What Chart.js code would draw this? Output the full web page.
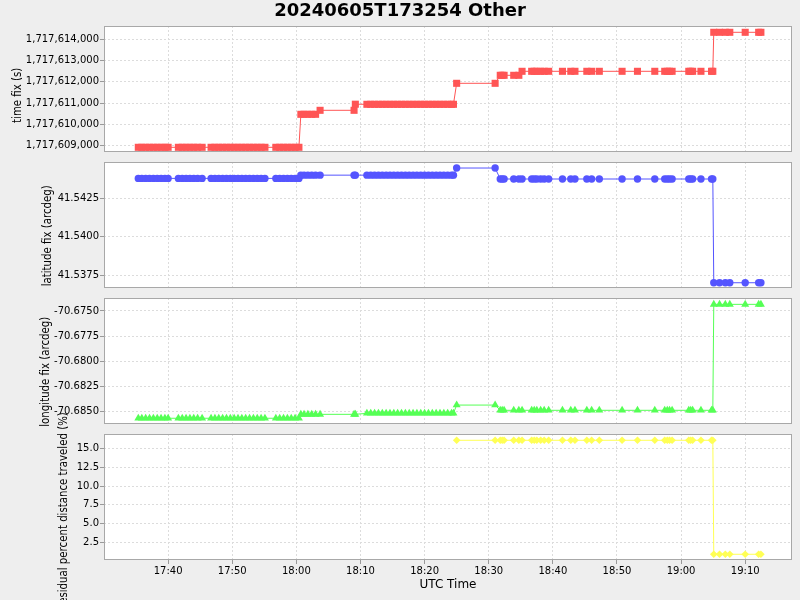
<!DOCTYPE html>
<html>
<head>
<meta charset="utf-8">
<script src="https://cdn.jsdelivr.net/npm/chart.js@4"></script>
<style>
  html, body { margin: 0; padding: 0; background: #eeeeee; }
  #contenedor { position: relative; width: 800px; height: 600px; }
  #contenedor canvas { position: absolute; left: 0; top: 0; }
</style>
</head>
<body>
<div id="contenedor">
  <canvas id="graficoTiempo" width="800" height="600"></canvas>
  <canvas id="graficoLatitud" width="800" height="600"></canvas>
  <canvas id="graficoLongitud" width="800" height="600"></canvas>
  <canvas id="graficoResiduo" width="800" height="600"></canvas>
</div>
<script>
// Minutos desde las 17:00 UTC de cada fix
const minutos = [
  35.35, 35.9, 36.5, 37.1, 37.7, 38.3, 38.9, 39.5, 40.0,
  41.6, 42.2, 42.8, 43.4, 44.0, 44.6, 45.3,
  46.7, 47.3, 47.9, 48.5, 49.1, 49.7, 50.3, 50.9, 51.5, 52.1, 52.7, 53.3, 53.9, 54.5, 55.1,
  56.8, 57.4, 58.0, 58.6, 59.2, 59.8, 60.4,
  60.7, 61.2, 61.8, 62.4, 63.0, 63.7, 69.0, 69.2,
  71.0, 71.6, 72.2, 72.8, 73.4, 74.0, 74.6, 75.2, 75.8, 76.4, 77.0, 77.6,
  78.2, 78.8, 79.4, 80.0, 80.6, 81.2, 81.8, 82.4, 83.0, 83.6, 84.2, 84.5,
  85.0, 91.0,
  91.8, 92.1, 92.4, 93.9, 94.7,
  95.2, 96.7, 97.1, 97.5, 98.1, 98.65, 99.35, 101.5, 102.8, 103.45, 105.3, 106.05, 107.25,
  110.8, 113.2, 115.9, 117.45, 117.85, 118.2, 118.6, 121.2, 121.5, 121.8, 123.1, 124.75, 124.95,
  125.1, 126.0, 126.9, 127.6, 130.0, 132.1, 132.45
];

// time fix (s)
const tiempoFix = [
  1717608925, 1717608925, 1717608925, 1717608925, 1717608925, 1717608925, 1717608925, 1717608925, 1717608925,
  1717608925, 1717608925, 1717608925, 1717608925, 1717608925, 1717608925, 1717608925,
  1717608925, 1717608925, 1717608925, 1717608925, 1717608925, 1717608925, 1717608925, 1717608925, 1717608925, 1717608925, 1717608925, 1717608925, 1717608925, 1717608925, 1717608925,
  1717608925, 1717608925, 1717608925, 1717608925, 1717608925, 1717608925, 1717608925,
  1717610475, 1717610475, 1717610475, 1717610475, 1717610475, 1717610663, 1717610663, 1717610950,
  1717610945, 1717610945, 1717610945, 1717610945, 1717610945, 1717610945, 1717610945, 1717610945, 1717610945, 1717610945, 1717610945, 1717610945,
  1717610945, 1717610945, 1717610945, 1717610945, 1717610945, 1717610945, 1717610945, 1717610945, 1717610945, 1717610945, 1717610945, 1717610945,
  1717611932, 1717611932,
  1717612308, 1717612308, 1717612308, 1717612308, 1717612308,
  1717612496, 1717612496, 1717612496, 1717612496, 1717612496, 1717612496, 1717612496, 1717612496, 1717612496, 1717612496, 1717612496, 1717612496, 1717612496,
  1717612496, 1717612496, 1717612496, 1717612496, 1717612496, 1717612496, 1717612496, 1717612496, 1717612496, 1717612496, 1717612496, 1717612496, 1717612496,
  1717614329, 1717614329, 1717614329, 1717614329, 1717614329, 1717614329, 1717614329
];

// latitude fix (arcdeg)
const latitud = [
  41.54377, 41.54377, 41.54377, 41.54377, 41.54377, 41.54377, 41.54377, 41.54377, 41.54377,
  41.54377, 41.54377, 41.54377, 41.54377, 41.54377, 41.54377, 41.54377,
  41.54377, 41.54377, 41.54377, 41.54377, 41.54377, 41.54377, 41.54377, 41.54377, 41.54377, 41.54377, 41.54377, 41.54377, 41.54377, 41.54377, 41.54377,
  41.54377, 41.54377, 41.54377, 41.54377, 41.54377, 41.54377, 41.54377,
  41.54398, 41.54398, 41.54398, 41.54398, 41.54398, 41.54398, 41.54398, 41.54398,
  41.54398, 41.54398, 41.54398, 41.54398, 41.54398, 41.54398, 41.54398, 41.54398, 41.54398, 41.54398, 41.54398, 41.54398,
  41.54398, 41.54398, 41.54398, 41.54398, 41.54398, 41.54398, 41.54398, 41.54398, 41.54398, 41.54398, 41.54398, 41.54398,
  41.54444, 41.54444,
  41.54373, 41.54373, 41.54373, 41.54373, 41.54373,
  41.54373, 41.54373, 41.54373, 41.54373, 41.54373, 41.54373, 41.54373, 41.54373, 41.54373, 41.54373, 41.54373, 41.54373, 41.54373,
  41.54373, 41.54373, 41.54373, 41.54373, 41.54373, 41.54373, 41.54373, 41.54373, 41.54373, 41.54373, 41.54373, 41.54373, 41.54373,
  41.53702, 41.53702, 41.53702, 41.53702, 41.53702, 41.53702, 41.53702
];

// longitude fix (arcdeg)
const longitud = [
  -70.68565, -70.68565, -70.68565, -70.68565, -70.68565, -70.68565, -70.68565, -70.68565, -70.68565,
  -70.68565, -70.68565, -70.68565, -70.68565, -70.68565, -70.68565, -70.68565,
  -70.68565, -70.68565, -70.68565, -70.68565, -70.68565, -70.68565, -70.68565, -70.68565, -70.68565, -70.68565, -70.68565, -70.68565, -70.68565, -70.68565, -70.68565,
  -70.68565, -70.68565, -70.68565, -70.68565, -70.68565, -70.68565, -70.68565,
  -70.68526, -70.68526, -70.68526, -70.68526, -70.68526, -70.68526, -70.68526, -70.68526,
  -70.68516, -70.68516, -70.68516, -70.68516, -70.68516, -70.68516, -70.68516, -70.68516, -70.68516, -70.68516, -70.68516, -70.68516,
  -70.68516, -70.68516, -70.68516, -70.68516, -70.68516, -70.68516, -70.68516, -70.68516, -70.68516, -70.68516, -70.68516, -70.68516,
  -70.68434, -70.68434,
  -70.68486, -70.68486, -70.68486, -70.68486, -70.68486,
  -70.68486, -70.68486, -70.68486, -70.68486, -70.68486, -70.68486, -70.68486, -70.68486, -70.68486, -70.68486, -70.68486, -70.68486, -70.68486,
  -70.68486, -70.68486, -70.68486, -70.68486, -70.68486, -70.68486, -70.68486, -70.68486, -70.68486, -70.68486, -70.68486, -70.68486, -70.68486,
  -70.67434, -70.67434, -70.67434, -70.67434, -70.67434, -70.67434, -70.67434
];

// residual percent distance traveled (%), sin dato antes de las 18:25
const residuo = [
  null, null, null, null, null, null, null, null, null,
  null, null, null, null, null, null, null,
  null, null, null, null, null, null, null, null, null, null, null, null, null, null, null,
  null, null, null, null, null, null, null,
  null, null, null, null, null, null, null, null,
  null, null, null, null, null, null, null, null, null, null, null, null,
  null, null, null, null, null, null, null, null, null, null, null, null,
  16.12, 16.12,
  16.12, 16.12, 16.12, 16.12, 16.12,
  16.12, 16.12, 16.12, 16.12, 16.12, 16.12, 16.12, 16.12, 16.12, 16.12, 16.12, 16.12, 16.12,
  16.12, 16.12, 16.12, 16.12, 16.12, 16.12, 16.12, 16.12, 16.12, 16.12, 16.12, 16.12, 16.12,
  0.9, 0.9, 0.9, 0.9, 0.9, 0.9, 0.9
];

// Marcas de los ejes
const ticksHora = [40, 50, 60, 70, 80, 90, 100, 110, 120, 130];
const etiquetasHora = ['17:40', '17:50', '18:00', '18:10', '18:20', '18:30', '18:40', '18:50', '19:00', '19:10'];
const ticksTiempo = [1717609000, 1717610000, 1717611000, 1717612000, 1717613000, 1717614000];
const ticksLatitud = [41.5375, 41.5400, 41.5425];
const ticksLongitud = [-70.6850, -70.6825, -70.6800, -70.6775, -70.6750];
const ticksResiduo = [2.5, 5.0, 7.5, 10.0, 12.5, 15.0];

Chart.defaults.font.family = 'DejaVu Sans';
Chart.defaults.color = '#000';

// Fondo blanco y borde gris del área de datos
const fondoPlot = {
  id: 'fondoPlot',
  beforeDraw(chart) {
    const a = chart.chartArea;
    const ctx = chart.ctx;
    ctx.save();
    ctx.fillStyle = '#ffffff';
    ctx.fillRect(a.left, a.top, a.right - a.left, a.bottom - a.top);
    ctx.restore();
  },
  afterDraw(chart) {
    const a = chart.chartArea;
    const ctx = chart.ctx;
    ctx.save();
    ctx.strokeStyle = '#a8a8a8';
    ctx.lineWidth = 1;
    ctx.strokeRect(a.left + 0.5, a.top + 0.5, a.right - a.left - 1, a.bottom - a.top - 1);
    ctx.restore();
  }
};

// Título vertical del eje Y (se dibuja a mano para poder colocarlo igual que el original)
const tituloEje = {
  id: 'tituloEje',
  afterDraw(chart, args, opts) {
    if (!opts.texto) return;
    const ctx = chart.ctx;
    ctx.save();
    ctx.translate(opts.x, opts.y);
    ctx.rotate(-Math.PI / 2);
    ctx.scale(0.85, 1);
    ctx.font = '12px "DejaVu Sans"';
    ctx.fillStyle = '#000';
    ctx.textAlign = 'center';
    ctx.textBaseline = 'middle';
    ctx.fillText(opts.texto, 0, 0);
    ctx.restore();
  }
};

function crearPanel(id, cfg) {
  const conEjeX = !!cfg.conEjeX;
  return new Chart(document.getElementById(id), {
    type: 'line',
    data: {
      datasets: [{
        data: minutos.map((m, i) => ({ x: m, y: cfg.valores[i] })),
        borderColor: cfg.color,
        backgroundColor: cfg.color,
        borderWidth: 1,
        pointStyle: cfg.marcador,
        pointRadius: cfg.radio,
        pointBorderWidth: 0,
        pointBackgroundColor: cfg.color,
        tension: 0,
        fill: false,
        spanGaps: false
      }]
    },
    options: {
      responsive: false,
      animation: false,
      events: [],
      layout: { padding: { left: cfg.izquierda || 0, right: 8, top: cfg.arriba, bottom: cfg.abajo } },
      scales: {
        x: {
          type: 'linear',
          min: 30,
          max: 137.3,
          afterBuildTicks: s => { s.ticks = ticksHora.map(v => ({ value: v })); },
          afterFit: s => { s.height = conEjeX ? 40 : 0; },
          grid: { color: '#dcdcdc', drawTicks: conEjeX, tickLength: 4, tickColor: '#999', tickBorderDash: [] },
          border: { display: false, dash: [2, 2] },
          ticks: {
            display: conEjeX,
            autoSkip: false,
            maxRotation: 0,
            padding: 1,
            font: { size: 10 },
            callback: v => etiquetasHora[ticksHora.indexOf(v)]
          },
          title: {
            display: conEjeX,
            text: 'UTC Time',
            font: { size: 12 },
            padding: { top: 0, bottom: 7.5 }
          }
        },
        y: {
          type: 'linear',
          min: cfg.min,
          max: cfg.max,
          afterBuildTicks: s => { s.ticks = cfg.ticks.map(v => ({ value: v })); },
          afterFit: s => { s.width = 104 - (cfg.izquierda || 0); },
          grid: { color: '#dcdcdc', drawTicks: true, tickLength: 4, tickColor: '#999', tickBorderDash: [] },
          border: { display: false, dash: [2, 2] },
          ticks: { padding: 1, font: { size: 10 }, callback: cfg.formato }
        }
      },
      plugins: {
        legend: { display: false },
        tooltip: { enabled: false },
        title: cfg.titulo || { display: false },
        tituloEje: cfg.tituloEje
      }
    },
    plugins: [fondoPlot, tituloEje]
  });
}

crearPanel('graficoTiempo', {
  valores: tiempoFix, color: '#ff5555', marcador: 'rect', radio: 5,
  min: 1717608704, max: 1717614625, ticks: ticksTiempo,
  formato: v => v.toLocaleString('en-US'),
  izquierda: 8, arriba: 0, abajo: 448,
  titulo: {
    display: true,
    text: '20240605T173254 Other',
    color: '#000',
    font: { size: 18, weight: 'bold' },
    padding: { top: 1, bottom: 3.4 }
  },
  tituloEje: { texto: 'time fix (s)', x: 18.3, y: 95.3 }
});

crearPanel('graficoLatitud', {
  valores: latitud, color: '#5555ff', marcador: 'circle', radio: 3.7,
  min: 41.53668, max: 41.54483, ticks: ticksLatitud,
  formato: v => v.toFixed(4),
  arriba: 162, abajo: 312,
  tituloEje: { texto: 'latitude fix (arcdeg)', x: 48.3, y: 235.8 }
});

crearPanel('graficoLongitud', {
  valores: longitud, color: '#55ff55', marcador: 'triangle', radio: 4.6,
  min: -70.68622, max: -70.67371, ticks: ticksLongitud,
  formato: v => v.toFixed(4),
  arriba: 298, abajo: 176,
  tituloEje: { texto: 'longitude fix (arcdeg)', x: 45.8, y: 371.7 }
});

crearPanel('graficoResiduo', {
  valores: residuo, color: '#ffff55', marcador: 'rectRot', radio: 3.8,
  min: 0.136, max: 16.96, ticks: ticksResiduo,
  formato: v => v.toFixed(1),
  arriba: 434, abajo: 0, conEjeX: true,
  tituloEje: { texto: 'residual percent distance traveled (%)', x: 63.5, y: 510 }
});
</script>
</body>
</html>
